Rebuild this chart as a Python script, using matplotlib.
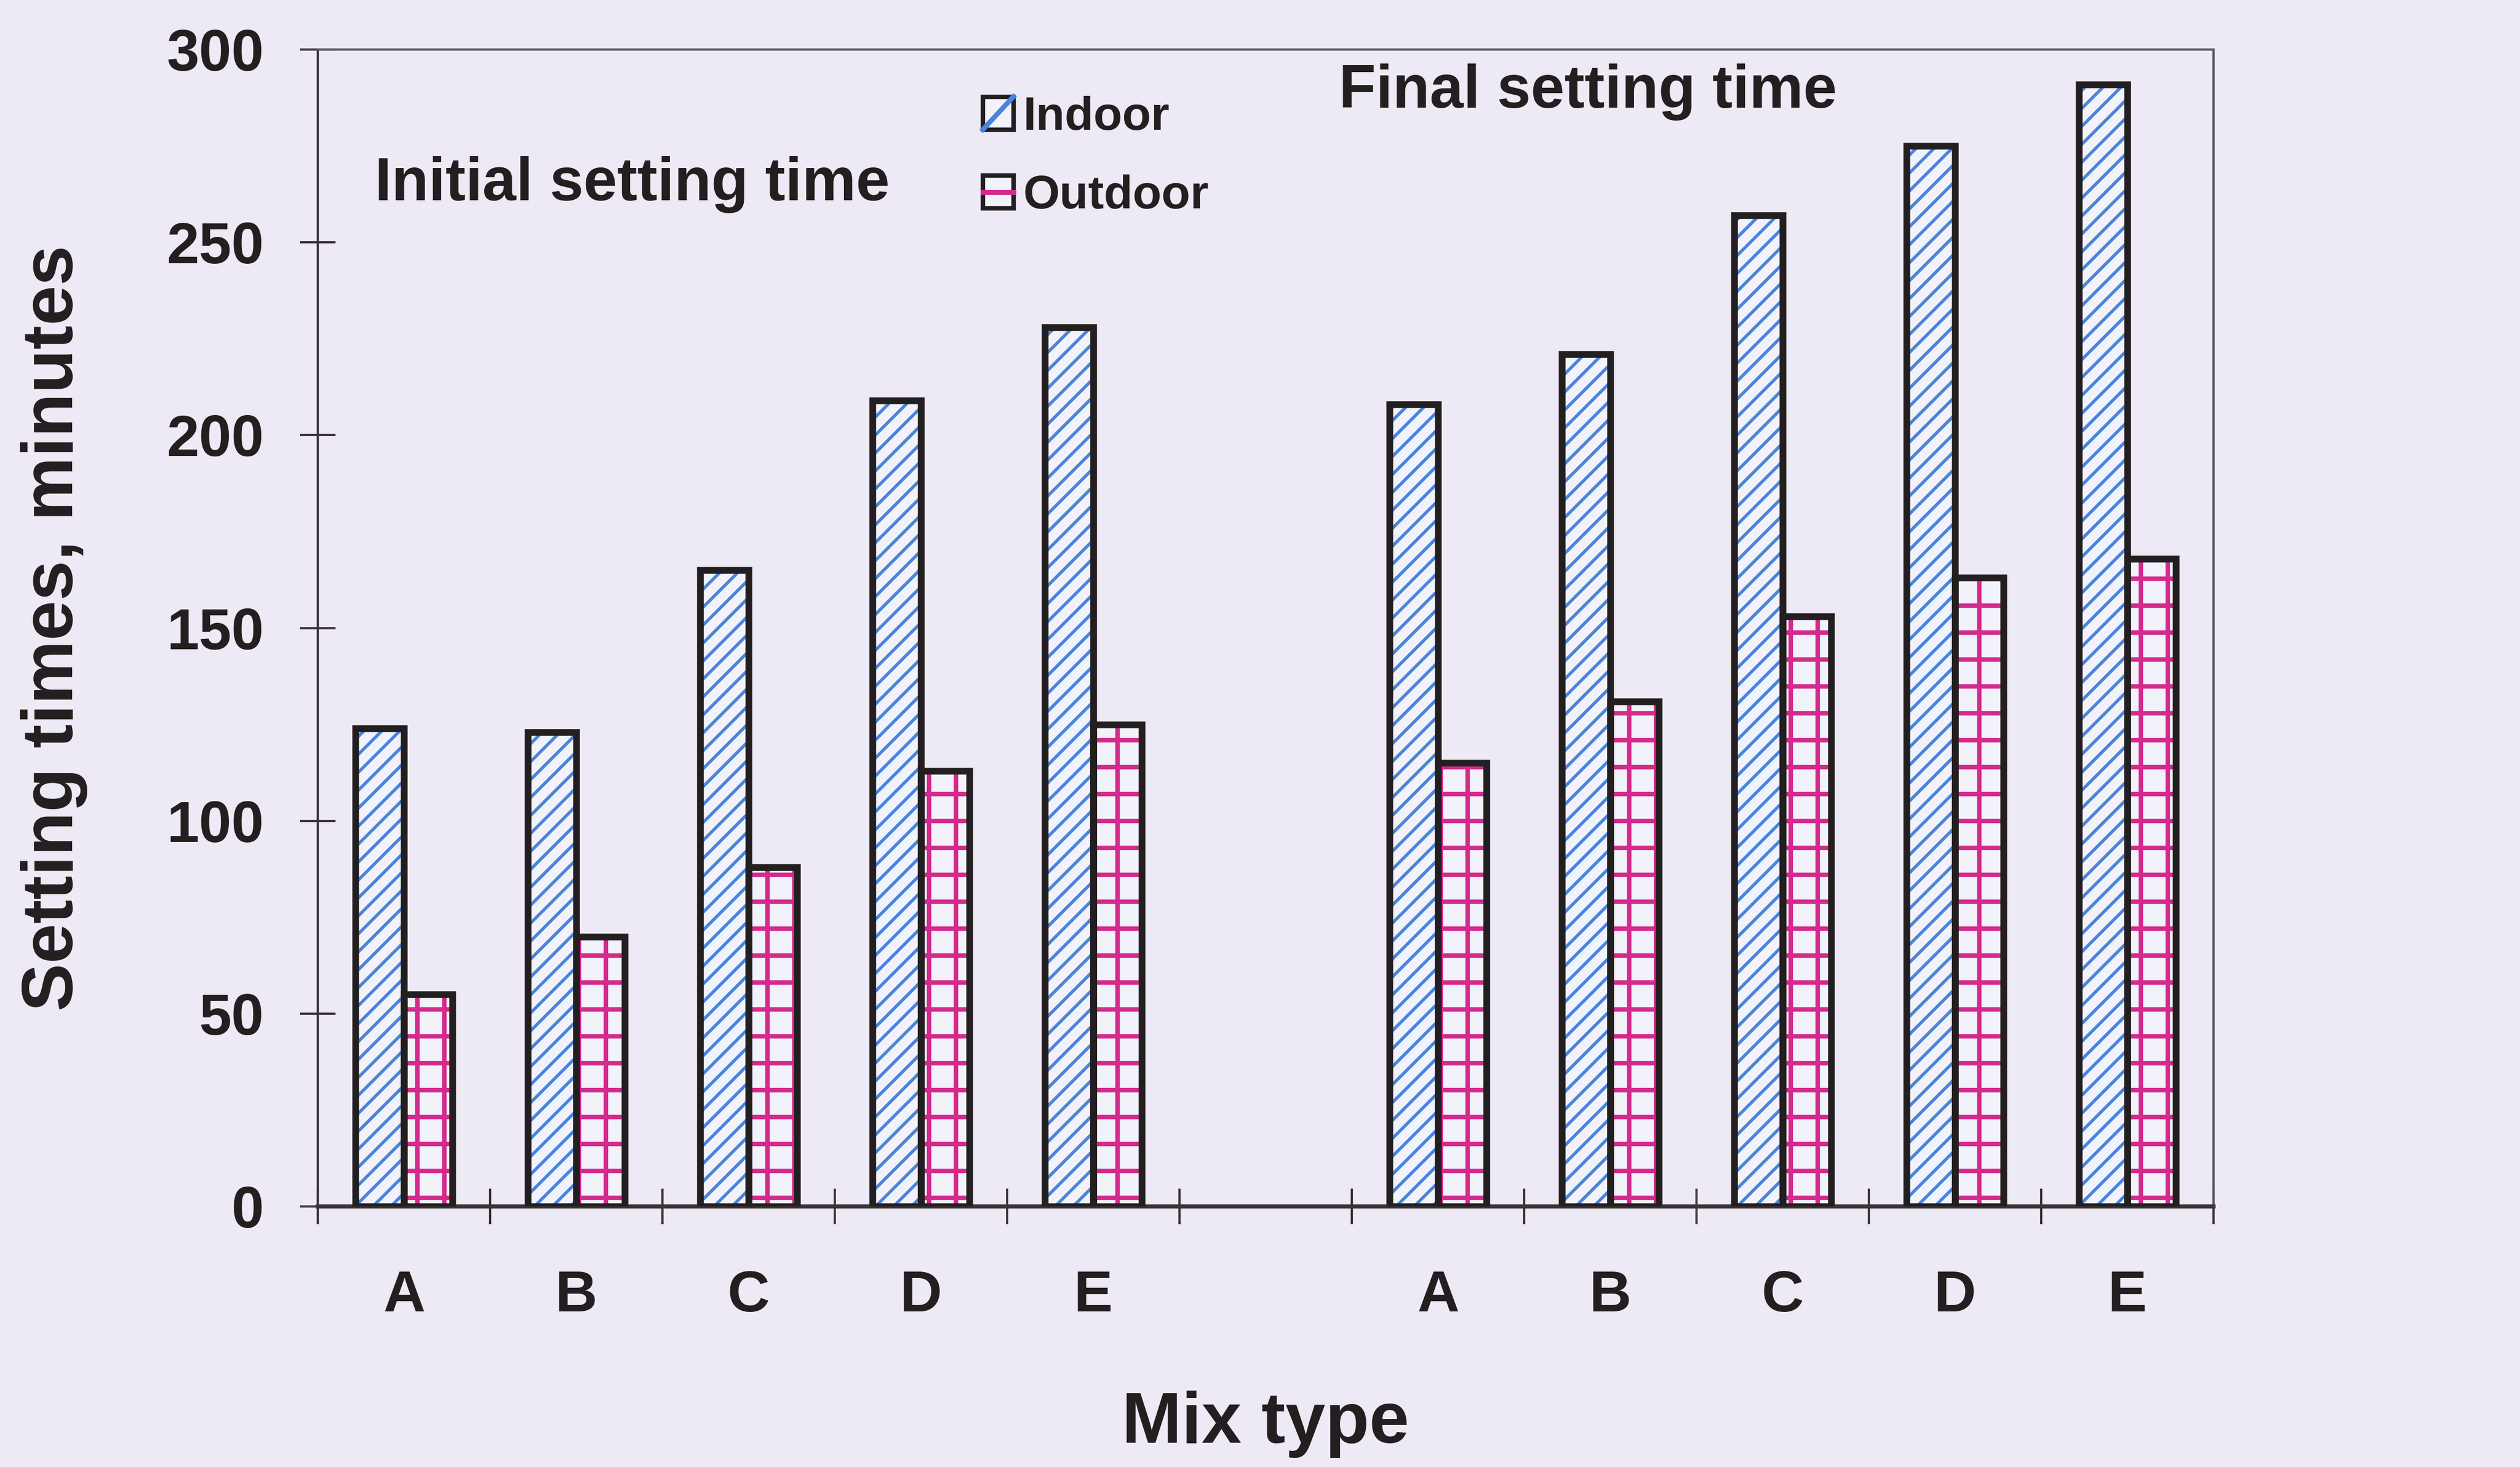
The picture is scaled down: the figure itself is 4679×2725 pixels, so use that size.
"""
Initial and final setting times of mixes A-E, indoor vs outdoor curing.
"""

import matplotlib

matplotlib.use("Agg")

import matplotlib.pyplot as plt
from matplotlib.legend_handler import HandlerBase
from matplotlib.lines import Line2D
from matplotlib.patches import Patch, Rectangle

# ---------------------------------------------------------------------------
# Data (minutes)
# ---------------------------------------------------------------------------
mixes = ["A", "B", "C", "D", "E"]
initial_indoor = [124, 123, 165, 209, 228]
initial_outdoor = [55, 70, 88, 113, 125]
final_indoor = [208, 221, 257, 275, 291]
final_outdoor = [115, 131, 153, 163, 168]

BG = "#edeaf5"
FACE = "#f2f2fb"
INK = "#231f20"
BLUE = "#4a84dc"
MAGENTA = "#d42a8c"

plt.rcParams["font.family"] = ["Liberation Sans", "DejaVu Sans"]
plt.rcParams["font.weight"] = "bold"
plt.rcParams["axes.labelweight"] = "bold"
plt.rcParams["hatch.linewidth"] = 1.4


class SwatchHandler(HandlerBase):
    """Outlined square with a single coloured stroke (diagonal or horizontal)."""

    def __init__(self, color, diagonal):
        super().__init__()
        self.color = color
        self.diagonal = diagonal

    def create_artists(self, legend, orig_handle, xdescent, ydescent,
                       width, height, fontsize, trans):
        x0, y0 = -xdescent, -ydescent
        if self.diagonal:
            xs, ys = [x0, x0 + width], [y0, y0 + height]
        else:
            xs, ys = [x0, x0 + width], [y0 + height / 2] * 2
        stroke = Line2D(xs, ys, color=self.color, lw=2.2, transform=trans)
        box = Rectangle((x0, y0), width, height, facecolor=FACE,
                        edgecolor=INK, lw=2.0, transform=trans)
        return [box, stroke]


fig = plt.figure(figsize=(4679 / 300, 2725 / 300), dpi=300, facecolor=BG)
ax = fig.add_axes([0.1261, 0.1776, 0.7523, 0.7886], facecolor=BG)

# slots 0-4 initial, slot 5 empty, slots 6-10 final
positions = [0, 1, 2, 3, 4, 6, 7, 8, 9, 10]
indoor = initial_indoor + final_indoor
outdoor = initial_outdoor + final_outdoor
labels = mixes + mixes

w = 0.28
x_in = [p - w for p in positions]
x_out = list(positions)

# hatch layer first (hatch takes the edge colour), then a black outline on top
ax.bar(x_in, indoor, width=w, align="edge", facecolor=FACE,
       edgecolor=BLUE, hatch="///", linewidth=0, zorder=2)
ax.bar(x_in, indoor, width=w, align="edge", fill=False,
       edgecolor=INK, linewidth=3.0, zorder=3)
out_bars = ax.bar(x_out, outdoor, width=w, align="edge", facecolor=FACE,
                  edgecolor=MAGENTA, hatch="+", linewidth=0, zorder=2)
for b in out_bars:
    if hasattr(b, "set_hatch_linewidth"):
        b.set_hatch_linewidth(2.0)
ax.bar(x_out, outdoor, width=w, align="edge", fill=False,
       edgecolor=INK, linewidth=3.0, zorder=3)

ax.set_xlim(-0.5, 10.5)
ax.set_ylim(0, 300)

# axes frame
for side in ("top", "right"):
    ax.spines[side].set_color("#555555")
    ax.spines[side].set_linewidth(1.0)
ax.spines["left"].set_color("#3a3436")
ax.spines["left"].set_linewidth(1.0)
ax.spines["bottom"].set_color("#3a3436")
ax.spines["bottom"].set_linewidth(1.8)

# y ticks
ax.set_yticks(range(0, 301, 50))
ax.tick_params(axis="y", direction="inout", length=16, width=1.0,
               colors="#3a3436", labelcolor=INK, labelsize=26, pad=16)

# x ticks: marks at slot boundaries, labels at slot centres
ax.set_xticks([i - 0.5 for i in range(12)])
ax.set_xticklabels([])
ax.tick_params(axis="x", which="major", direction="inout", length=16,
               width=1.0, colors="#3a3436")
ax.set_xticks(positions, minor=True)
ax.set_xticklabels(labels, minor=True)
ax.tick_params(axis="x", which="minor", length=0, labelsize=26,
               labelcolor=INK, pad=28)

ax.set_ylabel("Setting times, minutes", fontsize=32, color=INK, labelpad=35)
ax.set_xlabel("Mix type", fontsize=32, color=INK, labelpad=30)

ax.text(-0.17, 265, "Initial setting time", fontsize=27, color=INK,
        ha="left", va="center")
ax.text(5.425, 289, "Final setting time", fontsize=27, color=INK,
        ha="left", va="center")

h_in = Patch(label="Indoor")
h_out = Patch(label="Outdoor")
fig.legend([h_in, h_out], ["Indoor", "Outdoor"],
           handler_map={h_in: SwatchHandler(BLUE, True),
                        h_out: SwatchHandler(MAGENTA, False)},
           loc="center left", bbox_to_anchor=(0.390, 0.893),
           frameon=False, fontsize=21, handlelength=0.65, handleheight=0.7,
           handletextpad=0.2, labelspacing=0.75, borderpad=0, borderaxespad=0,
           labelcolor=INK)

fig.savefig("out.png", dpi=300, facecolor=BG)
